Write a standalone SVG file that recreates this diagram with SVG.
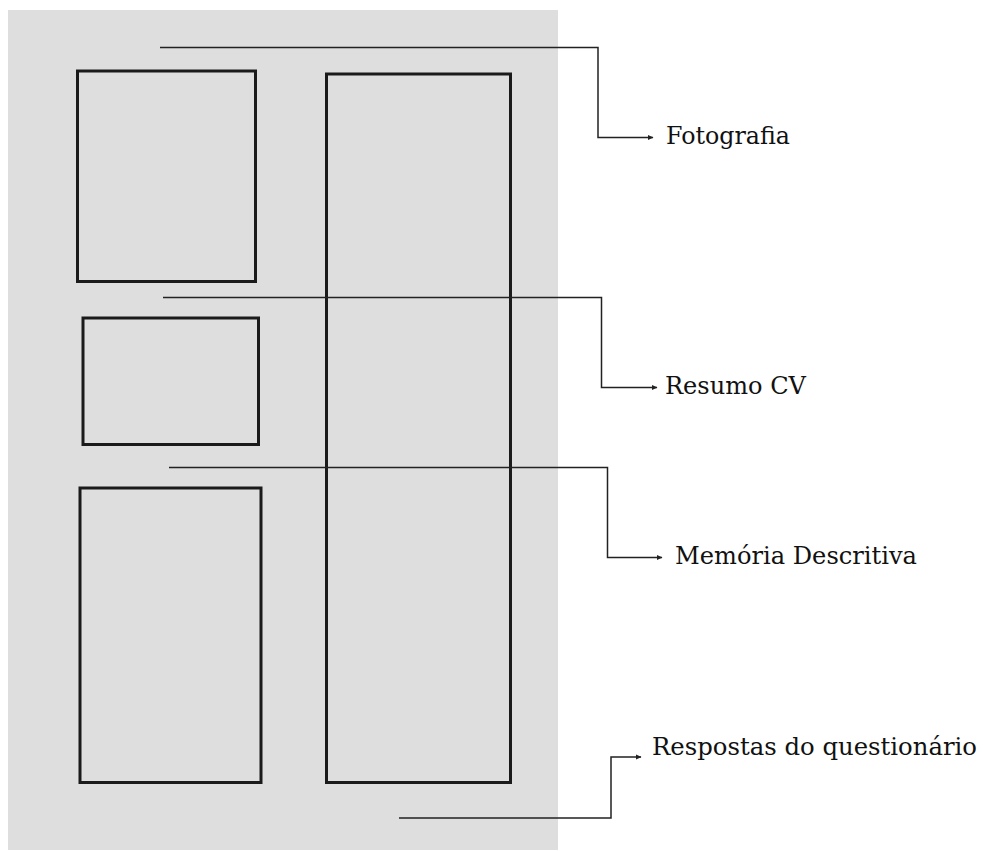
<svg xmlns="http://www.w3.org/2000/svg" width="983" height="851" viewBox="0 0 983 851">
<defs>
<style>
.bg{fill:#dedede;}
.box{fill:none;stroke:#1a1a1a;stroke-width:3;}
.conn{fill:none;stroke:#222;stroke-width:1.5;}
.lbl{font-family:"DejaVu Serif","Liberation Serif",serif;font-size:23.5px;fill:#111;}
</style>
<marker id="arr" markerWidth="6" markerHeight="6" refX="5" refY="3" orient="auto" markerUnits="userSpaceOnUse">
<path d="M0,0.5 L5.5,3 L0,5.5 Z" fill="#222"/>
</marker>
</defs>
<rect width="983" height="851" fill="#fff"/>
<rect class="bg" x="8" y="10" width="550" height="840"/>
<g id="foto"><rect class="box" x="77.5" y="71" width="178" height="210.5"/></g>
<g id="resumo"><rect class="box" x="83" y="318" width="175.5" height="126.5"/></g>
<g id="memoria"><rect class="box" x="80" y="488" width="181" height="294.5"/></g>
<g id="respostas"><rect class="box" x="326.5" y="74" width="184" height="708.5"/></g>
<g id="connectors">
<path class="conn" d="M160 47.5 H598 V137.5 H653" marker-end="url(#arr)"/>
<path class="conn" d="M163 297.5 H601.5 V387.5 H657" marker-end="url(#arr)"/>
<path class="conn" d="M169 467.5 H607.5 V557.5 H662" marker-end="url(#arr)"/>
<path class="conn" d="M399 818 H611 V757 H641" marker-end="url(#arr)"/>
</g>
<g id="labels">
<text class="lbl" x="666" y="144" textLength="124" lengthAdjust="spacingAndGlyphs">Fotografia</text>
<text class="lbl" x="665" y="394" textLength="141" lengthAdjust="spacingAndGlyphs">Resumo CV</text>
<text class="lbl" x="675" y="564" textLength="242" lengthAdjust="spacingAndGlyphs">Memória Descritiva</text>
<text class="lbl" x="652" y="755" textLength="325" lengthAdjust="spacingAndGlyphs">Respostas do questionário</text>
</g>
</svg>
